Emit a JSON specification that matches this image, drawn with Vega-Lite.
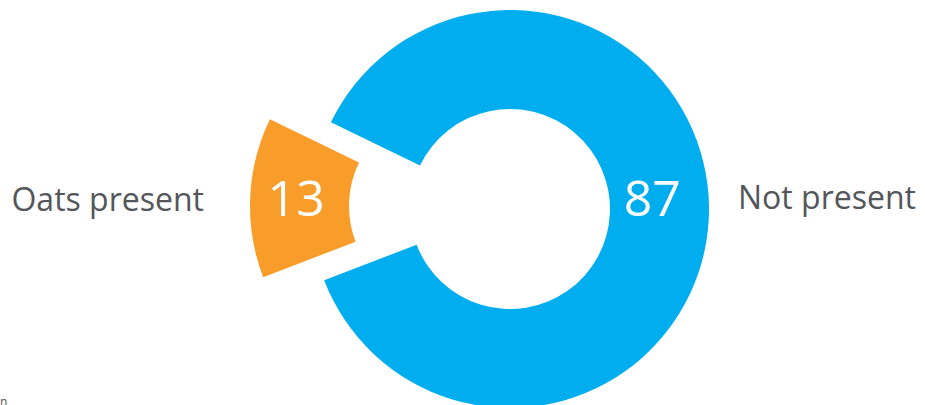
{
  "$schema": "https://vega.github.io/schema/vega-lite/v6.json",
  "width": 1020,
  "height": 392,
  "autosize": {"type": "none"},
  "padding": {"left": 0, "top": 13, "right": 0, "bottom": 0},
  "background": "white",
  "view": {"stroke": null},
  "title": {"text": "n", "orient": "bottom", "anchor": "start", "offset": -2, "baseline": "alphabetic", "fontSize": 12, "fontWeight": "normal", "font": "Open Sans", "color": "#53565A"},
  "data": {"values": [
    {"cat": "Oats present", "value": 13, "ord": 1},
    {"cat": "Not present", "value": 87, "ord": 2}
  ]},
  "encoding": {
    "theta": {"field": "value", "type": "quantitative", "stack": true, "scale": {"range": [4.3467, 10.6299]}},
    "order": {"field": "ord", "type": "quantitative"}
  },
  "layer": [
    {
      "mark": {"type": "arc", "radius": 199, "radius2": 100, "stroke": null},
      "encoding": {
        "color": {"field": "cat", "type": "nominal", "scale": {"domain": ["Oats present", "Not present"], "range": ["#F99D2A", "#00AEEF"]}, "legend": null},
        "opacity": {"condition": {"test": "datum.cat === 'Not present'", "value": 1}, "value": 0}
      }
    },
    {
      "mark": {"type": "arc", "radius": 199, "radius2": 100, "stroke": null, "xOffset": -61, "yOffset": -3},
      "encoding": {
        "color": {"field": "cat", "type": "nominal", "legend": null},
        "opacity": {"condition": {"test": "datum.cat === 'Oats present'", "value": 1}, "value": 0}
      }
    },
    {
      "mark": {"type": "text", "radius": 153, "xOffset": -61, "yOffset": -1, "fontSize": 50, "font": "Open Sans", "color": "white", "align": "center", "baseline": "middle"},
      "encoding": {
        "text": {"condition": {"test": "datum.cat === 'Oats present'", "field": "value", "type": "quantitative"}, "value": ""}
      }
    },
    {
      "mark": {"type": "text", "radius": 142.5, "yOffset": -14, "fontSize": 50, "font": "Open Sans", "color": "white", "align": "center", "baseline": "middle"},
      "encoding": {
        "text": {"condition": {"test": "datum.cat === 'Not present'", "field": "value", "type": "quantitative"}, "value": ""}
      }
    },
    {
      "mark": {"type": "text", "radius": 228.2, "yOffset": -19.3, "fontSize": 32, "font": "Open Sans", "color": "#53565A", "align": "left", "baseline": "middle"},
      "encoding": {
        "text": {"condition": {"test": "datum.cat === 'Not present'", "field": "cat", "type": "nominal"}, "value": ""}
      }
    },
    {
      "mark": {"type": "text", "radius": 306.3, "yOffset": 4.6, "fontSize": 32, "font": "Open Sans", "color": "#53565A", "align": "right", "baseline": "middle"},
      "encoding": {
        "text": {"condition": {"test": "datum.cat === 'Oats present'", "field": "cat", "type": "nominal"}, "value": ""}
      }
    }
  ]
}
